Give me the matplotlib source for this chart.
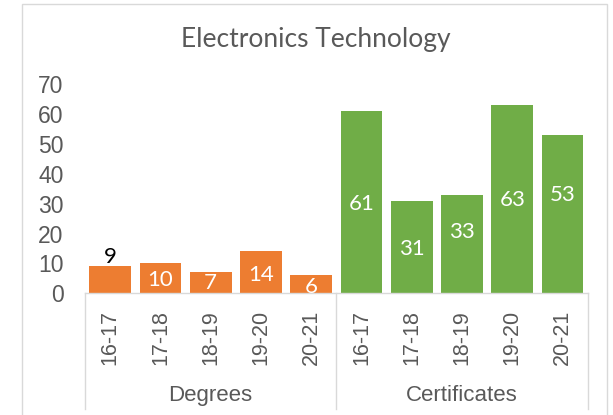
import matplotlib
matplotlib.use("Agg")
import matplotlib.pyplot as plt
import matplotlib.transforms as mtransforms
from matplotlib.patches import Rectangle
from matplotlib.lines import Line2D

# ---- data ----
years = ["16-17", "17-18", "18-19", "19-20", "20-21"]
groups = ["Degrees", "Certificates"]
degrees = [9, 10, 7, 14, 6]
certificates = [61, 31, 33, 63, 53]
title = "Electronics Technology"
yticks = [0, 10, 20, 30, 40, 50, 60, 70]
# data-label heights (in value units) as placed in the original chart
degree_label_y = [12.2, 4.4, 3.3, 6.1, 2.2]
cert_label_y = [29.8, 14.7, 20.5, 31.1, 32.8]

ORANGE = "#ED7D31"
GREEN = "#70AD47"
GRAY_TXT = "#595959"
GRAY_LINE = "#D9D9D9"

W, H = 613, 415
fig = plt.figure(figsize=(W / 100, H / 100), dpi=100)

ax_left, ax_right = 85, 587.7
ax_bottom_px, ax_top_px = 293.3, 84
ax = fig.add_axes([ax_left / W, (H - ax_bottom_px) / H,
                   (ax_right - ax_left) / W, (ax_bottom_px - ax_top_px) / H])

n = len(years)
values = degrees + certificates
colors = [ORANGE] * n + [GREEN] * n
xs = list(range(2 * n))
ax.bar(xs, values, width=0.83, color=colors, zorder=2)

ax.set_xlim(-0.5, 2 * n - 0.5)
ax.set_ylim(0, 70)
ax.set_yticks(yticks)
ax.set_yticklabels([str(t) for t in yticks], fontsize=16.5, color=GRAY_TXT,
                   family="Liberation Sans")
ax.tick_params(axis="y", length=0, pad=15.5)
ax.set_xticks(xs)
ax.set_xticklabels(years * 2, rotation=90, fontsize=15.5, color=GRAY_TXT,
                   family="Liberation Sans")
ax.tick_params(axis="x", length=0, pad=12)

for s in ["left", "top", "right"]:
    ax.spines[s].set_visible(False)
ax.spines["bottom"].set_color(GRAY_LINE)
ax.spines["bottom"].set_linewidth(1.0)

# data labels
label_y = degree_label_y + cert_label_y
for i, (v, ly) in enumerate(zip(values, label_y)):
    c = "black" if (i == 0) else "white"
    ax.text(i, ly, str(v), ha="center", va="center", fontsize=16,
            color=c, family="Lato", zorder=3)

# category group separators and labels
trans = mtransforms.blended_transform_factory(ax.transData, ax.transAxes)
line_bottom = -(409 - ax_bottom_px) / (ax_bottom_px - ax_top_px)
for xb in [-0.5, n - 0.5, 2 * n - 0.5]:
    ax.add_line(Line2D([xb, xb], [0, line_bottom], transform=trans,
                       color=GRAY_LINE, lw=1.0, clip_on=False))
grp_y = -(395 - ax_bottom_px) / (ax_bottom_px - ax_top_px)
for gi, g in enumerate(groups):
    ax.text(gi * n + (n - 1) / 2, grp_y, g, transform=trans, ha="center",
            va="center", fontsize=16, color=GRAY_TXT, family="Liberation Sans")

# title
fig.text(316 / W, 1 - 39 / H, title, ha="center", va="center",
         fontsize=19, color=GRAY_TXT, family="Lato", fontweight="normal")

# chart border
fig.patches.append(Rectangle((22 / W, -0.05), (607 - 22) / W, 1 - 4 / H + 0.05,
                             transform=fig.transFigure, fill=False,
                             edgecolor=GRAY_LINE, lw=1.0))

fig.savefig("out.png", dpi=100)
